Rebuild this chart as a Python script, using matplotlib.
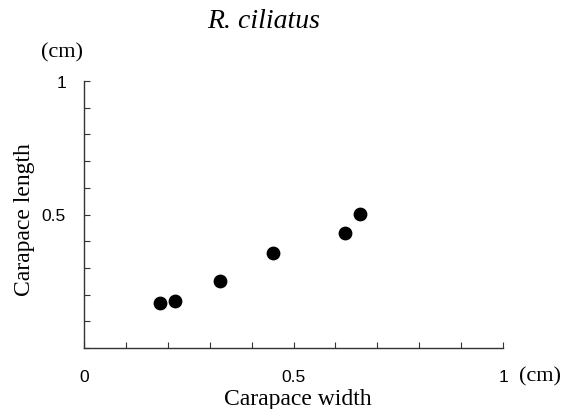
import matplotlib
matplotlib.use("Agg")
import matplotlib.pyplot as plt
from matplotlib.ticker import MultipleLocator

title = "R. ciliatus"
carapace_width = [0.181, 0.217, 0.325, 0.452, 0.623, 0.659]
carapace_length = [0.167, 0.177, 0.250, 0.357, 0.430, 0.503]
xtick_vals = [0, 0.5, 1]
xtick_labels = ["0", "0.5", "1"]
ytick_vals = [0.5, 1]
ytick_labels = ["0.5", "1"]

W, H = 571, 409
fig = plt.figure(figsize=(W / 100, H / 100), dpi=100)
ax = fig.add_axes([84/W, 1-348/H, (503-84)/W, (348-81)/H])

ax.scatter(carapace_width, carapace_length, s=80, color="black", zorder=3,
           clip_on=False)

ax.set_xlim(0, 1)
ax.set_ylim(0, 1)
for s in ["top", "right"]:
    ax.spines[s].set_visible(False)
for s in ["left", "bottom"]:
    ax.spines[s].set_color("#333333")
    ax.spines[s].set_linewidth(1.0)

ax.xaxis.set_major_locator(MultipleLocator(0.1))
ax.yaxis.set_major_locator(MultipleLocator(0.1))
ax.tick_params(axis="both", direction="in", length=4, width=0.8,
               color="#333333", labelbottom=False, labelleft=False)

tickfont = dict(family="Liberation Sans", size=12.5, color="black")
for v, lab in zip(xtick_vals, xtick_labels):
    ax.annotate(lab, xy=(v, 0), xycoords="data", xytext=(0, -21.6),
                textcoords="offset points", ha="center", va="center", **tickfont)
for v, lab in zip(ytick_vals, ytick_labels):
    ax.annotate(lab, xy=(0, v), xycoords="data", xytext=(-13, -1.5),
                textcoords="offset points", ha="right", va="center", **tickfont)

serif = dict(family="Liberation Serif", color="black")
fig.text(264/W, 1 - 22/H, title, ha="center", va="center",
         style="italic", size=20, **serif)
fig.text(62/W, 1 - 53/H, "(cm)", ha="center", va="center", size=16, **serif)
fig.text(540/W, 1 - 377/H, "(cm)", ha="center", va="center", size=16, **serif)
fig.text(298/W, 1 - 400/H, "Carapace width", ha="center", va="center", size=17, **serif)
fig.text(25/W, 1 - 220/H, "Carapace length", ha="center", va="center",
         rotation=90, size=17, **serif)

fig.savefig("out.png", dpi=100)
